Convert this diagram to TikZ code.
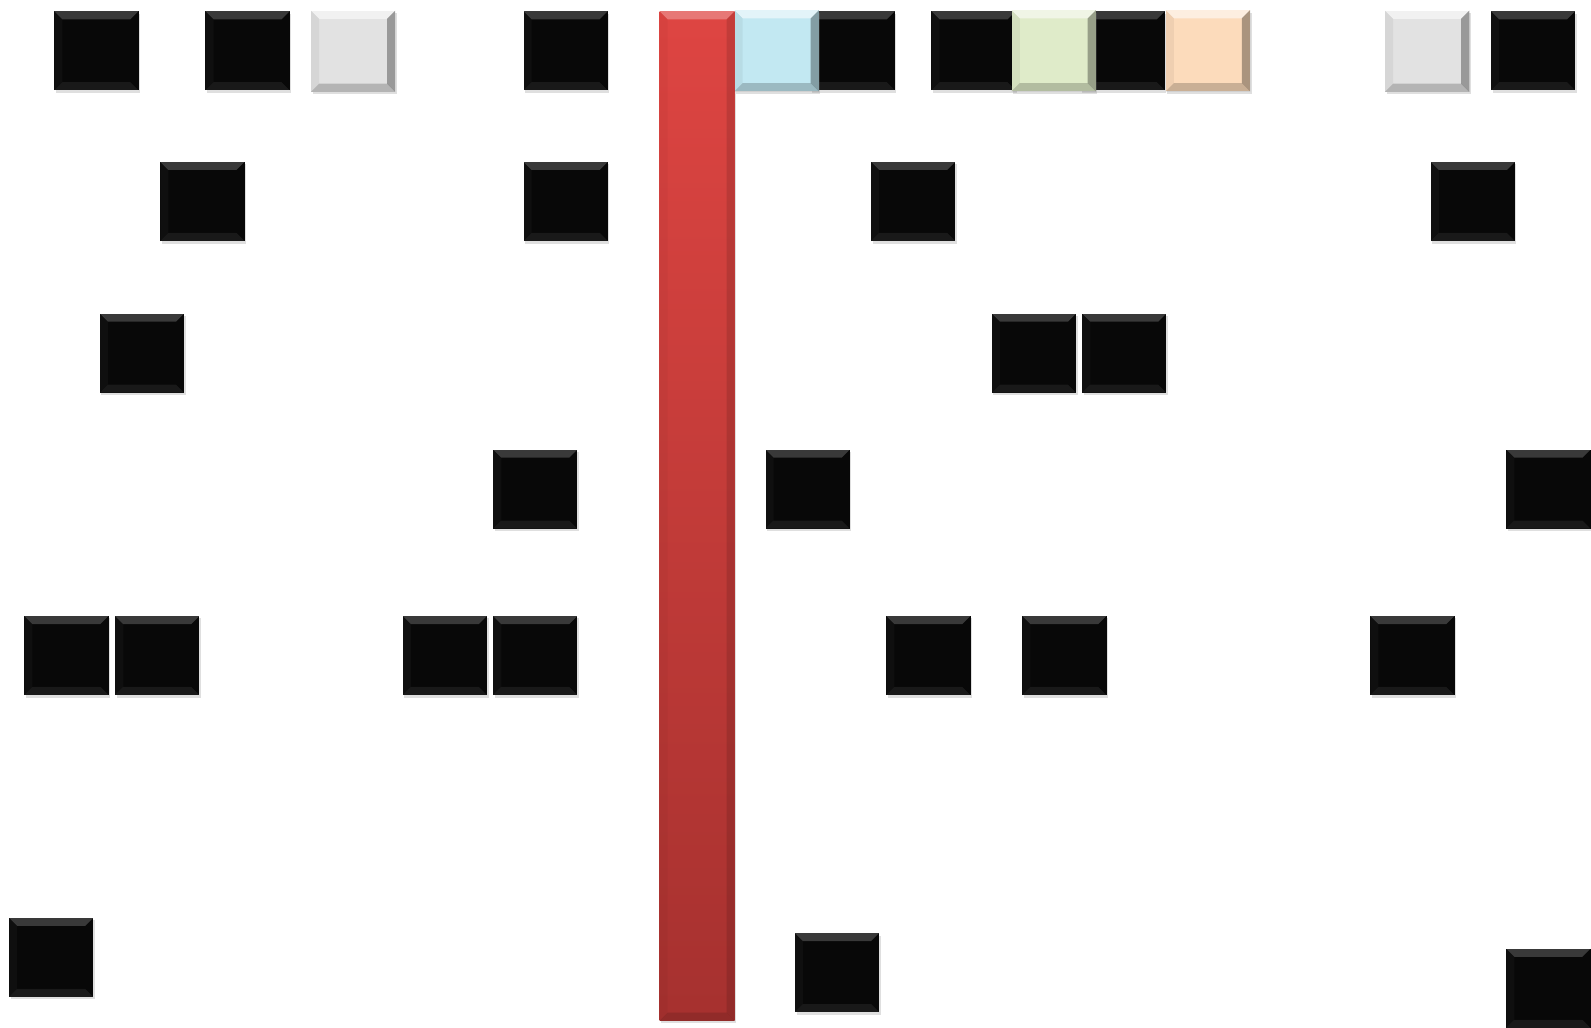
\documentclass[tikz,border=0pt]{standalone}
\usetikzlibrary{shadows}

\definecolor{tileblack}{HTML}{080808}
\definecolor{tilegrey}{HTML}{E2E2E2}
\definecolor{tileblue}{HTML}{C2E8F2}
\definecolor{tilegreen}{HTML}{DFEBC9}
\definecolor{tilepeach}{HTML}{FCDBBB}
\definecolor{bartop}{HTML}{DE4542}
\definecolor{barbottom}{HTML}{A6312F}

% bevel faces: #1 depth, #2 top, #3 left, #4 right, #5 bottom (colour!opacity)
\newcommand\bevelfaces[5]{%
  \def\bb{path picture bounding box}%
  \fill[#2] (\bb.north west) -- (\bb.north east)
      -- ([shift={(-#1,-#1)}]\bb.north east) -- ([shift={(#1,-#1)}]\bb.north west) -- cycle;
  \fill[#3] (\bb.north west) -- ([shift={(#1,-#1)}]\bb.north west)
      -- ([shift={(#1,#1)}]\bb.south west) -- (\bb.south west) -- cycle;
  \fill[#4] (\bb.north east) -- ([shift={(-#1,-#1)}]\bb.north east)
      -- ([shift={(-#1,#1)}]\bb.south east) -- (\bb.south east) -- cycle;
  \fill[#5] (\bb.south west) -- ([shift={(#1,#1)}]\bb.south west)
      -- ([shift={(-#1,#1)}]\bb.south east) -- (\bb.south east) -- cycle;
}

\begin{document}
\begin{tikzpicture}[
    x=1pt,y=-1pt,
    darkbevel/.style={path picture={\bevelfaces{8pt}{white,opacity=.2}{white,opacity=.03}{black,opacity=0}{white,opacity=.07}}},
    lightbevel/.style={path picture={\bevelfaces{8pt}{white,opacity=.55}{black,opacity=.05}{black,opacity=.32}{black,opacity=.2}}},
    barbevel/.style={path picture={\bevelfaces{8pt}{white,opacity=.28}{black,opacity=.03}{black,opacity=.12}{black,opacity=.12}}},
    shadowed/.style={drop shadow={opacity=.25,shadow xshift=1.5pt,shadow yshift=-2.5pt}},
    tile/.style={fill=tileblack,minimum width=83pt,minimum height=78pt,inner sep=0pt,
        shadowed,darkbevel},
    bigtile/.style={fill=#1,minimum width=83pt,minimum height=80pt,inner sep=0pt,
        shadowed,lightbevel},
    bar/.style={minimum width=74pt,minimum height=995pt,inner sep=0pt,
        top color=bartop,bottom color=barbottom,shadowed,barbevel}
]
\useasboundingbox (0,0) rectangle (1568,1013);

% red column
\node[bar] (bar) at (687,508.5) {};

% row 1
\node[tile] (r1a) at (95,50) {};
\node[tile] (r1b) at (244,50) {};
\node[bigtile=tilegrey] (r1c) at (348,50.5) {};
\node[tile] (r1d) at (557.5,50) {};
\node[tile] (r1e) at (840.5,50) {};
\node[bigtile=tileblue] (r1f) at (765.5,50) {};
\node[tile] (r1g) at (959.5,50) {};
\node[tile] (r1h) at (1106.5,50) {};
\node[bigtile=tilegreen] (r1i) at (1038.5,50) {};
\node[bigtile=tilepeach] (r1j) at (1190.5,50) {};
\node[bigtile=tilegrey] (r1k) at (1406.5,50.5) {};
\node[tile] (r1l) at (1511,50) {};

% row 2
\node[tile] (r2a) at (199.5,198.5) {};
\node[tile] (r2b) at (557.5,198.5) {};
\node[tile] (r2c) at (900,198.5) {};
\node[tile] (r2d) at (1451.5,198.5) {};

% row 3
\node[tile] (r3a) at (140,348) {};
\node[tile] (r3b) at (1019,348) {};
\node[tile] (r3c) at (1108,348) {};

% row 4
\node[tile] (r4a) at (527.5,482) {};
\node[tile] (r4b) at (796,482) {};
\node[tile] (r4c) at (1526,482) {};

% row 5
\node[tile] (r5a) at (65.5,646) {};
\node[tile] (r5b) at (155,646) {};
\node[tile] (r5c) at (438.5,646) {};
\node[tile] (r5d) at (527.5,646) {};
\node[tile] (r5e) at (915,646) {};
\node[tile] (r5f) at (1049,646) {};
\node[tile] (r5g) at (1392,646) {};

% bottom
\node[tile] (r6a) at (50.5,943.5) {};
\node[tile] (r6b) at (825,958.5) {};
\node[tile] (r6c) at (1526,974) {};

\end{tikzpicture}
\end{document}
